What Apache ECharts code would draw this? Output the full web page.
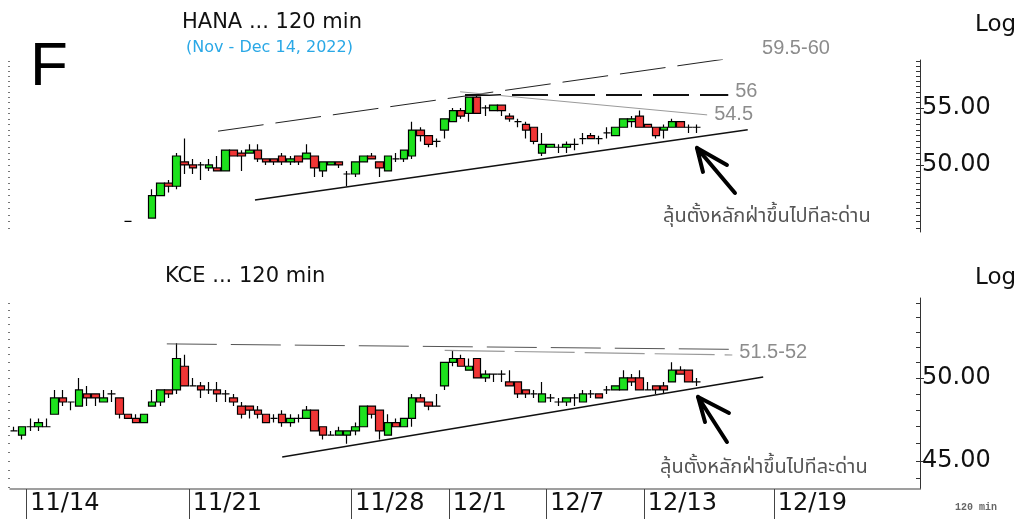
<!DOCTYPE html>
<html>
<head>
<meta charset="utf-8">
<script src="https://cdn.jsdelivr.net/npm/echarts@6/dist/echarts.min.js"></script>
<style>
  html, body { margin: 0; padding: 0; background: #fff; }
  #main { width: 1014px; height: 520px; }
</style>
</head>
<body>
<div id="main"></div>
<script>
// 120-minute bars, 4 per trading day (11/11 and 12/23 only partly on screen)
const days = ['11/11','11/14','11/15','11/16','11/17','11/18','11/21','11/22','11/23','11/24','11/25',
  '11/28','11/29','11/30','12/1','12/2','12/6','12/7','12/8','12/9','12/13','12/14',
  '12/15','12/16','12/19','12/20','12/21','12/22','12/23'];
const barsPerDay = 4;
const firstBar = '11/11 3';
const lastBar = '12/23 2';
const dayLabels = ['11/14','11/21','11/28','12/1','12/7','12/13','12/19'];

// HANA [open, close, low, high], first row is bar '11/17 1'
const hanaStart = '11/17 1';
const hana = [
  [45.5,45.5,45.5,45.5], null, null,
  [45.75,47.5,45.75,48.0], [47.5,48.5,47.5,48.5], [48.5,48.25,47.75,48.75], [48.25,50.75,48.0,51.0],
  [50.25,50.0,49.25,52.25], [50.0,49.75,49.25,50.5], [50.0,50.0,48.75,50.25], [49.75,50.0,49.5,50.5],
  [49.75,49.5,49.5,50.75], [49.5,51.25,49.5,51.25], [51.25,50.75,50.75,51.25], [51.0,50.75,49.5,51.25],
  [51.0,51.25,51.0,51.75], [51.25,50.5,50.25,51.75], [50.5,50.25,50.0,50.5], [50.5,50.25,50.0,50.5],
  [50.75,50.25,50.0,51.0], [50.25,50.5,50.0,50.75], [50.75,50.25,50.0,50.75], [50.5,51.0,50.5,51.75],
  [50.75,49.75,49.0,50.75], [49.5,50.25,49.0,50.25], [50.0,50.25,50.0,50.25], [50.25,50.0,49.75,50.25],
  [49.25,49.25,48.25,49.5], [49.25,50.25,49.0,50.25], [50.25,50.75,50.25,50.75], [50.75,50.5,50.5,51.0],
  [50.25,49.75,49.0,50.25], [49.5,50.75,49.5,50.75], [50.5,50.5,50.25,51.0], [50.5,51.25,50.25,51.25],
  [50.75,53.0,50.5,53.75], [53.0,52.5,52.0,53.25], [52.5,51.75,51.5,52.5], [52.0,52.0,51.5,52.25],
  [53.0,54.0,52.25,54.0], [53.75,54.75,53.75,55.0], [54.75,54.25,54.0,55.0], [54.5,56.0,53.75,56.0],
  [56.0,54.5,54.5,56.25], [55.0,55.0,54.25,55.25], [54.75,55.25,54.75,55.25], [55.25,54.75,54.25,55.25],
  [54.25,54.0,53.75,54.5], [53.75,53.75,53.25,54.0], [53.5,53.0,52.25,53.75], [53.25,52.0,51.75,53.25],
  [51.0,51.75,50.75,52.75], [51.5,51.75,51.5,51.75], [51.5,51.5,51.0,51.75], [51.5,51.75,51.0,52.0],
  [51.75,51.75,51.25,52.25], [52.25,52.25,51.75,52.75], [52.5,52.25,52.25,52.75], [52.25,52.25,51.75,52.5],
  [52.75,52.75,52.25,53.25], [52.5,53.25,52.5,53.25], [53.25,54.0,53.25,54.0], [53.75,54.0,53.25,54.25],
  [54.25,53.25,53.25,54.75], [53.5,53.25,53.25,53.5], [53.25,52.5,52.25,53.25], [53.0,53.25,52.25,53.5],
  [53.25,53.75,53.25,54.0], [53.75,53.25,53.25,53.75], [53.25,53.25,52.75,53.5], [53.25,53.25,52.75,53.5]
];

// KCE [open, close, low, high], first row is bar '11/11 3'
const kceStart = '11/11 3';
const kce = [
  [46.75,46.75,46.75,47.0], [46.5,47.0,46.25,47.0],
  [47.0,47.0,46.75,47.5], [47.0,47.25,46.75,47.5], [47.0,47.0,47.0,47.5], [47.75,48.75,47.75,49.25],
  [48.75,48.5,48.25,49.25], [48.5,48.5,48.0,48.5], [48.25,49.25,48.25,50.0], [49.0,48.75,48.25,49.5],
  [49.0,48.75,48.25,49.0], [48.5,48.75,48.5,49.25], [49.0,49.0,48.5,49.25], [48.75,47.75,47.5,48.75],
  [47.75,47.5,47.5,47.75], [47.5,47.25,47.25,47.75], [47.25,47.75,47.25,47.75], [48.25,48.5,48.25,49.25],
  [48.5,49.25,48.25,49.25], [49.25,49.0,48.75,49.25], [49.25,51.25,49.0,52.25], [50.75,49.5,49.5,51.5],
  [49.5,49.5,49.5,50.0], [49.5,49.25,48.75,49.75], [49.25,49.25,49.0,49.75], [49.25,49.0,48.5,49.75],
  [49.0,49.0,48.5,49.25], [48.75,48.5,48.25,49.0], [48.25,47.75,47.5,48.5], [48.25,48.0,47.5,48.25],
  [48.0,47.75,47.5,48.25], [47.75,47.25,47.25,47.75], [47.5,47.5,47.25,47.75], [47.75,47.25,47.0,48.0],
  [47.25,47.5,47.0,47.75], [47.5,47.5,47.25,47.75], [47.5,48.0,47.5,48.25], [48.0,46.75,46.75,48.0],
  [47.0,46.5,46.25,47.0], [46.5,46.5,46.5,46.75], [46.5,46.75,46.5,47.0], [46.5,46.75,46.0,46.75],
  [46.75,47.0,46.5,47.25], [47.0,48.25,47.0,48.25], [48.25,47.75,47.5,48.25], [48.0,46.75,46.25,48.0],
  [46.5,47.25,46.5,47.75], [47.25,47.0,47.0,47.5], [47.0,47.5,47.0,47.5], [47.5,48.75,47.0,49.0],
  [48.75,48.5,48.5,49.0], [48.5,48.25,48.0,48.5], [48.25,48.25,48.25,49.0], [49.5,51.0,49.25,51.0],
  [51.0,51.25,50.75,51.75], [51.25,50.75,50.75,51.5], [50.5,50.75,50.5,51.25], [51.25,50.0,50.0,51.25],
  [50.0,50.25,49.75,50.5], [50.25,50.25,49.75,50.25], [50.25,50.25,49.75,50.5], [49.75,49.5,49.5,50.5],
  [49.75,49.0,48.75,49.75], [49.25,49.0,48.75,49.25], [49.0,49.0,48.75,49.25], [48.5,49.0,48.5,49.75],
  [48.75,48.75,48.5,49.0], [48.5,48.5,48.25,48.75], [48.5,48.75,48.25,48.75], [48.75,48.75,48.25,49.0],
  [48.5,49.0,48.5,49.25], [49.0,49.0,48.75,49.25], [49.0,48.75,48.75,49.0], [49.25,49.25,49.0,49.5],
  [49.25,49.5,49.25,49.5], [49.25,50.0,49.25,50.5], [50.0,49.75,49.5,50.25], [50.0,49.25,49.25,50.5],
  [49.25,49.25,49.25,49.75], [49.5,49.25,49.0,49.5], [49.5,49.25,49.0,49.75], [49.75,50.5,49.75,51.0],
  [50.5,50.25,50.25,50.75], [50.5,49.75,49.75,50.5], [49.75,49.75,49.5,50.0]
];

// axis ranges (log scale) and ticks
const hanaRange = [44.7, 59.58];
const kceRange = [43.43, 55.34];
const hanaMinorTicks = [45,45.5,46,46.5,47,47.5,48,48.5,49,49.5,50,50.5,51,51.5,52,52.5,53,53.5,54,54.5,55,55.5,56,56.5,57,57.5,58,58.5,59,59.5];
const kceMinorTicks = [44,45,46,47,48,49,50,51,52,53,54,55];
const kceDots = [43.5,44,44.5,45,45.5,46,46.5,47,47.5,48,48.5,49,49.5,50,50.5,51,51.5,52,52.5,53,53.5,54,54.5,55];
const hanaLabels = [50, 55];
const kceLabels = [45, 50];

// drawn trend lines, [bar index from 11/14 first bar, price]
const hanaChannelTop = [[23.1, 52.9], [89.2, 60.1]];
const hanaLevel56 = [[53.5, 56.2], [85.9, 56.2]];
const hanaFalling = [[52.9, 56.5], [83.3, 54.36]];
const hanaSupport = [[27.65, 47.16], [88.3, 53.03]];
const hanaArrow = [[86.73, 47.71], [82.05, 51.44], [82.79, 49.42]];
const hanaArrowBarb = [[82.05, 51.44], [85.74, 50.0]];
const kceTopA = [[16.8, 52.21], [86.4, 51.85]];
const kceTopB = [[51.0, 51.78], [86.4, 51.48]];
const kceSupport = [[31.0, 45.23], [90.2, 50.06]];
const kceArrow = [[85.74, 46.10], [82.18, 48.81], [83.04, 47.28]];
const kceArrowBarb = [[82.18, 48.81], [85.99, 47.83]];

const ln = Math.log;
const categories = [];
days.forEach(d => { for (let s = 1; s <= barsPerDay; s++) categories.push(d + ' ' + s); });
const cats = categories.slice(categories.indexOf(firstBar), categories.indexOf(lastBar) + 1);
const offset0 = cats.indexOf('11/14 1');
// day separators sit on the left edge of each labelled day's first bar
const daySeparators = dayLabels.map(d => cats.indexOf(d + ' 1') - offset0 - 0.5);

function candles(rows, startCat) {
  const s = cats.indexOf(startCat);
  const out = [];
  rows.forEach((r, i) => { if (r) out.push([s + i, ln(r[0]), ln(r[1]), ln(r[2]), ln(r[3])]); });
  return out;
}
const pts = arr => arr.map(p => [p[0], ln(p[1])]);
const isDayStart = (i, v) => dayLabels.indexOf(v.split(' ')[0]) >= 0 && v.split(' ')[1] === '1';

const greyLabel = (txt, off) => ({
  show: true, formatter: txt, color: '#8c8c8c', fontSize: 20,
  fontFamily: 'Liberation Sans, Arial', distance: 7, offset: off || [0, 0]
});
function trend(xi, yi, data, style, label) {
  return {
    type: 'line', xAxisIndex: xi, yAxisIndex: yi, data: pts(data), symbol: 'none',
    silent: true, z: 5, lineStyle: style, endLabel: label || { show: false }
  };
}
function yAxes(gi, range, minor, labels, dots) {
  const base = { type: 'value', gridIndex: gi, min: ln(range[0]), max: ln(range[1]), splitLine: { show: false } };
  return [
    Object.assign({}, base, {
      position: 'right',
      axisLine: { show: true, onZero: false, lineStyle: { color: '#333', width: 1 } },
      axisTick: { show: true, inside: true, length: 4, customValues: minor.map(ln), lineStyle: { color: '#333' } },
      axisLabel: { show: false }
    }),
    Object.assign({}, base, {
      position: 'right',
      axisLine: { show: false, onZero: false },
      axisTick: { show: true, inside: false, length: 4, customValues: labels.map(ln), lineStyle: { color: '#333' } },
      axisLabel: {
        show: true, customValues: labels.map(ln), margin: 2, fontSize: 24, color: '#111',
        fontFamily: 'DejaVu Sans', formatter: v => Math.exp(v).toFixed(2)
      }
    }),
    Object.assign({}, base, {
      position: 'left',
      axisLine: { show: false, onZero: false },
      axisTick: { show: true, inside: false, length: 2, customValues: dots.map(ln), lineStyle: { color: '#777' } },
      axisLabel: { show: false }
    })
  ];
}

const candleStyle = {
  color: '#1de21d', color0: '#f03535', borderColor: '#000', borderColor0: '#000',
  borderColorDoji: '#000', borderWidth: 1.2
};
const thaiFont = '20px "Noto Sans Thai", "Noto Sans", "DejaVu Sans", sans-serif';
const chart = echarts.init(document.getElementById('main'));
chart.setOption({
  animation: false,
  backgroundColor: '#fff',
  grid: [
    { left: 10, right: 94, top: 60, height: 172, outerBoundsMode: 'none' },
    { left: 10, right: 94, top: 298, height: 191, outerBoundsMode: 'none' }
  ],
  xAxis: [
    { type: 'category', gridIndex: 0, position: 'bottom', data: cats, show: false },
    { type: 'value', gridIndex: 0, position: 'bottom', min: -offset0 - 0.5, max: cats.length - offset0 - 0.5, show: false },
    {
      type: 'category', gridIndex: 1, position: 'bottom', data: cats,
      axisLine: { show: true, onZero: false, lineStyle: { color: '#808080', width: 1.5 } },
      axisTick: { show: false },
      axisLabel: {
        show: true, interval: isDayStart, formatter: v => v.split(' ')[0], align: 'left',
        margin: 3, fontSize: 24, color: '#111', fontFamily: 'DejaVu Sans', hideOverlap: false
      }
    },
    {
      type: 'value', gridIndex: 1, position: 'bottom', min: -offset0 - 0.5, max: cats.length - offset0 - 0.5,
      axisLine: { show: false, onZero: false }, splitLine: { show: false }, axisLabel: { show: false },
      axisTick: { show: true, length: 30, customValues: daySeparators, lineStyle: { color: '#444' } }
    }
  ],
  yAxis: yAxes(0, hanaRange, hanaMinorTicks, hanaLabels, hanaMinorTicks)
    .concat(yAxes(1, kceRange, kceMinorTicks, kceLabels, kceDots)),
  graphic: [
    { type: 'text', left: 182, top: 12, style: { text: 'HANA ... 120 min', fill: '#111', font: '21px "DejaVu Sans"' } },
    { type: 'text', left: 186, top: 40, style: { text: '(Nov - Dec 14, 2022)', fill: '#2aa8e6', font: '16px "DejaVu Sans"' } },
    { type: 'text', left: 30, top: 37, style: { text: 'F', fill: '#000', font: '62px "Liberation Sans"' } },
    { type: 'text', left: 975, top: 14, style: { text: 'Log', fill: '#111', font: '23px "DejaVu Sans"' } },
    { type: 'text', left: 165, top: 266, style: { text: 'KCE ... 120 min', fill: '#111', font: '21px "DejaVu Sans"' } },
    { type: 'text', left: 975, top: 267, style: { text: 'Log', fill: '#111', font: '23px "DejaVu Sans"' } },
    { type: 'text', left: 663, top: 208, style: { text: 'ลุ้นตั้งหลักฝ่าขึ้นไปทีละด่าน', fill: '#555', font: thaiFont } },
    { type: 'text', left: 660, top: 459, style: { text: 'ลุ้นตั้งหลักฝ่าขึ้นไปทีละด่าน', fill: '#555', font: thaiFont } },
    { type: 'text', left: 955, top: 502, style: { text: '120 min', fill: '#666', font: 'bold 10px "Liberation Mono"' } }
  ],
  series: [
    {
      type: 'candlestick', xAxisIndex: 0, yAxisIndex: 0, data: candles(hana, hanaStart),
      encode: { x: 0, y: [1, 2, 3, 4] }, barWidth: 8, itemStyle: candleStyle
    },
    {
      type: 'candlestick', xAxisIndex: 2, yAxisIndex: 3, data: candles(kce, kceStart),
      encode: { x: 0, y: [1, 2, 3, 4] }, barWidth: 8, itemStyle: candleStyle
    },
    trend(1, 0, hanaChannelTop, { color: '#222', width: 1, type: [46, 12] }, greyLabel('59.5-60', [0, -6])),
    trend(1, 0, hanaLevel56, { color: '#111', width: 2, type: [36, 11] }, greyLabel('56', [0, -3])),
    trend(1, 0, hanaFalling, { color: '#9a9a9a', width: 1 }, greyLabel('54.5')),
    trend(1, 0, hanaSupport, { color: '#111', width: 1.5 }),
    trend(1, 0, hanaArrow, { color: '#000', width: 4, cap: 'round', join: 'round' }),
    trend(1, 0, hanaArrowBarb, { color: '#000', width: 4, cap: 'round' }),
    trend(3, 3, kceTopA, { color: '#555', width: 1, type: [50, 14] }),
    trend(3, 3, kceTopB, { color: '#999', width: 1.2, type: [60, 10] }, greyLabel('51.5-52', [0, -2])),
    trend(3, 3, kceSupport, { color: '#111', width: 1.5 }),
    trend(3, 3, kceArrow, { color: '#000', width: 4, cap: 'round', join: 'round' }),
    trend(3, 3, kceArrowBarb, { color: '#000', width: 4, cap: 'round' })
  ]
});
</script>
</body>
</html>
